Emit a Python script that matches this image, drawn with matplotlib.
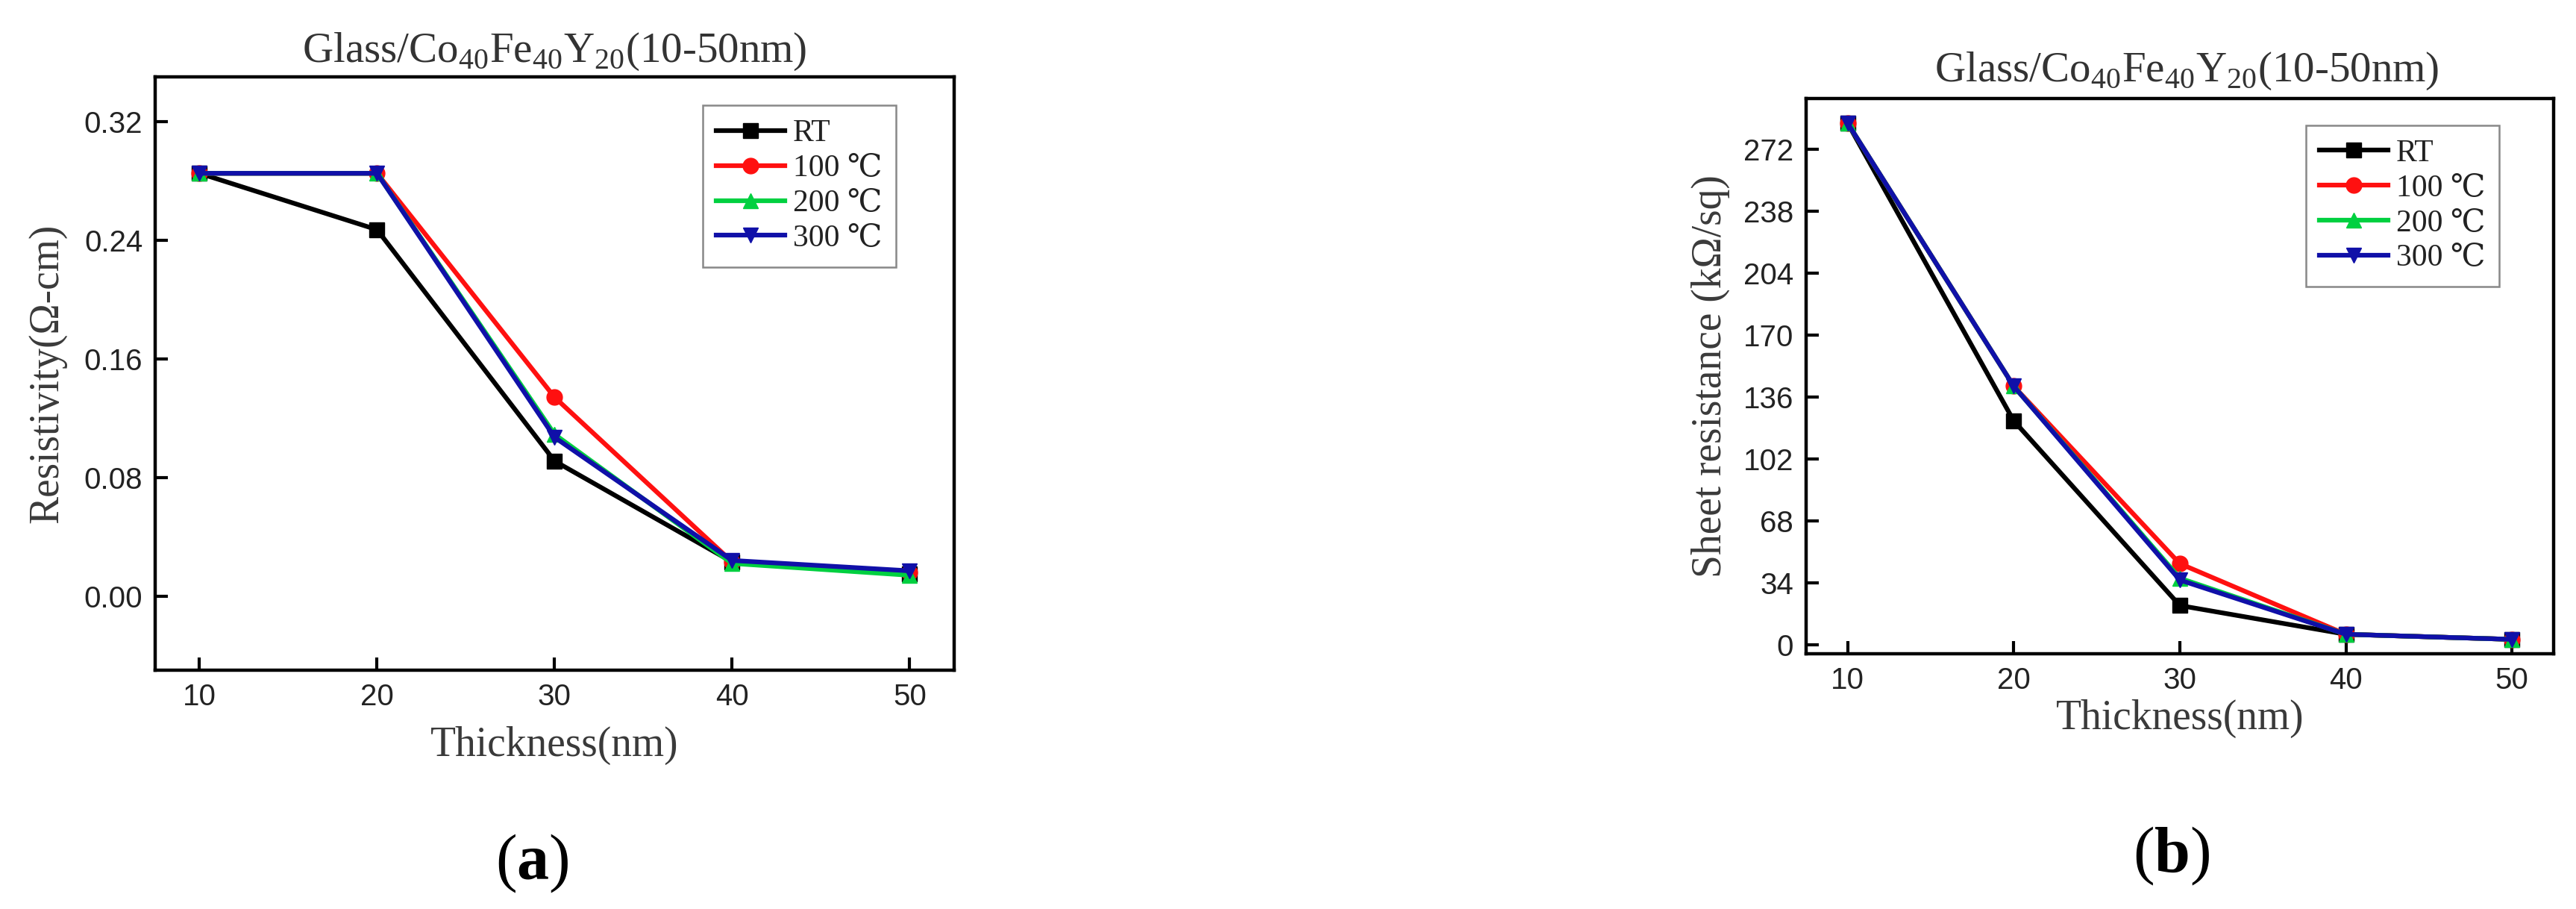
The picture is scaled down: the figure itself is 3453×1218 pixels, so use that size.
import numpy as np
import matplotlib
matplotlib.use("Agg")
import matplotlib.pyplot as plt

plt.rcParams["mathtext.fontset"] = "custom"
plt.rcParams["mathtext.rm"] = "Liberation Serif"
plt.rcParams["mathtext.bf"] = "Liberation Serif:bold"

# data
thickness = [10, 20, 30, 40, 50]
series_names = ["RT", "100 \u2103", "200 \u2103", "300 \u2103"]

# (a) resistivity, ohm-cm
rho_rt = [0.285, 0.247, 0.091, 0.023, 0.015]
rho_100 = [0.285, 0.285, 0.134, 0.023, 0.016]
rho_200 = [0.285, 0.285, 0.109, 0.022, 0.014]
rho_300 = [0.285, 0.285, 0.107, 0.024, 0.017]

# (b) sheet resistance, kohm/sq
rs_rt = [286.5, 123.0, 21.5, 5.7, 2.9]
rs_100 = [286.5, 142.0, 44.5, 5.7, 2.9]
rs_200 = [286.5, 142.0, 36.5, 5.7, 2.9]
rs_300 = [286.5, 142.0, 35.5, 5.7, 2.9]

colors = ["black", "#ff1010", "#00d040", "#1010a8"]
markers = ["s", "o", "^", "v"]

title = r"Glass/Co$_{40}$Fe$_{40}$Y$_{20}$(10-50nm)"
serif = ["Liberation Serif", "DejaVu Serif"]

fig = plt.figure(figsize=(34.53, 12.18), dpi=100)
ax_a = fig.add_axes([0.0602, 0.2627, 0.3102, 0.6527])
ax_b = fig.add_axes([0.7011, 0.2808, 0.2902, 0.6108])


def style_panel(ax, ys, yticks, ylim, fmt, ylabel, title_xy, ylab_x, xlab_y):
    for vals, name, c, m in zip(ys, series_names, colors, markers):
        ax.plot(thickness, vals, color=c, marker=m, lw=4.5, ms=15, label=name)
    ax.set_xlim(7.5, 52.5)
    ax.set_ylim(*ylim)
    ax.set_xticks(thickness)
    ax.set_yticks(yticks)
    ax.set_yticklabels([fmt.format(v) for v in yticks])
    for s in ax.spines.values():
        s.set_linewidth(3.2)
    ax.tick_params(direction="in", length=12, width=3, labelsize=29,
                   labelcolor="#222222", pad=12)
    for lab in ax.get_xticklabels() + ax.get_yticklabels():
        lab.set_family(["Liberation Sans", "DejaVu Sans"])
    ax.set_xlabel("Thickness(nm)", fontsize=40, family=serif,
                  color="#3a3a3a", va="center")
    ax.set_ylabel(ylabel, fontsize=40, family=serif, color="#3a3a3a",
                  va="center")
    ax.xaxis.set_label_coords(0.5, xlab_y)
    ax.yaxis.set_label_coords(ylab_x, 0.5)
    ax.text(title_xy[0], title_xy[1], title, transform=ax.transAxes,
            ha="center", va="center", fontsize=41, family=serif,
            color="#333333")
    leg = ax.legend(loc="upper right", bbox_to_anchor=(0.927, 0.952),
                    prop={"family": serif, "size": 30}, handlelength=2.2,
                    handletextpad=0.25, labelspacing=0.2, borderpad=0.45,
                    borderaxespad=0, fancybox=False, framealpha=1)
    leg.get_frame().set_edgecolor("#888888")
    leg.get_frame().set_linewidth(1.8)
    for t in leg.get_texts():
        t.set_color("#222222")


style_panel(ax_a, [rho_rt, rho_100, rho_200, rho_300],
            [0.0, 0.08, 0.16, 0.24, 0.32], (-0.05, 0.35), "{:.2f}",
            "Resistivity(\u03a9-cm)", (0.5, 1.042), -0.135, -0.127)
style_panel(ax_b, [rs_rt, rs_100, rs_200, rs_300],
            [0, 34, 68, 102, 136, 170, 204, 238, 272], (-5, 300), "{:d}",
            "Sheet resistance (k\u03a9/sq)", (0.509, 1.05), -0.128, -0.117)

fig.text(0.2065, 0.050, r"($\mathbf{a}$)", ha="center", va="center",
         fontsize=62, family=serif)
fig.text(0.843, 0.058, r"($\mathbf{b}$)", ha="center", va="center",
         fontsize=62, family=serif)

fig.savefig("out.png", dpi=100)
